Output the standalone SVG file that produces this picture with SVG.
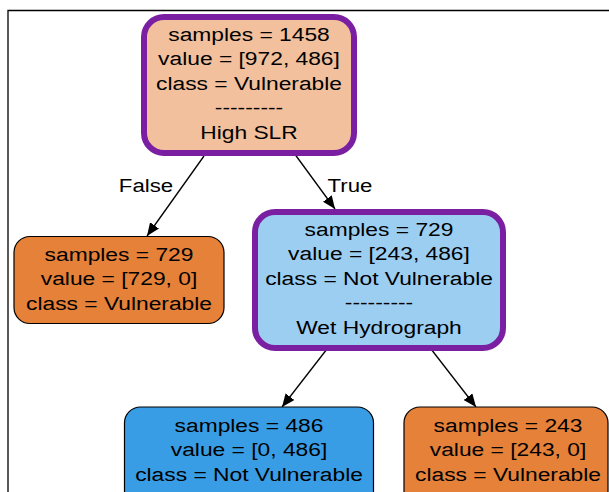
<svg xmlns="http://www.w3.org/2000/svg" width="609" height="492" viewBox="0 0 609 492">
<defs>
<style>
text{font-family:"Liberation Sans",Arial,Helvetica,sans-serif;font-size:19px;fill:#000;text-anchor:middle}
.split{stroke:#7b1fa2;stroke-width:6}
.leaf{stroke:#000;stroke-width:1.2}
.edge{stroke:#000;stroke-width:1.3;fill:none;marker-end:url(#ah)}
</style>
<marker id="ah" markerUnits="userSpaceOnUse" markerWidth="14" markerHeight="11" refX="13" refY="5.5" orient="auto">
<path d="M0,0 L13,5.5 L0,11 z" fill="#000"/>
</marker>
</defs>
<rect width="609" height="492" fill="#fff"/>
<path d="M8,492 V10.5 H609" fill="none" stroke="#000" stroke-width="1.3"/>
<g id="edges">
<line class="edge" x1="204" y1="156" x2="147" y2="236"/>
<line class="edge" x1="294" y1="153" x2="335" y2="209"/>
<line class="edge" x1="327" y1="349" x2="282" y2="407"/>
<line class="edge" x1="431" y1="349" x2="476" y2="407"/>
<g transform="translate(146,0) scale(1.17,1)"><text x="0" y="192">False</text></g>
<g transform="translate(350,0) scale(1.17,1)"><text x="0" y="192">True</text></g>
</g>
<g id="node0">
<rect class="split" x="144" y="17" width="210" height="136" rx="20" fill="#f2c09c"/>
<g transform="translate(249,0) scale(1.2,1)">
<text x="0" y="41.5">samples = 1458</text>
<text x="0" y="65.5">value = [972, 486]</text>
<text x="0" y="90">class = Vulnerable</text>
<text x="0" y="114.5">---------</text>
<text x="0" y="139">High SLR</text>
</g>
</g>
<g id="node1">
<rect class="leaf" x="14" y="236.5" width="210" height="87" rx="16" fill="#e58139"/>
<g transform="translate(119,0) scale(1.2,1)">
<text x="0" y="261.5">samples = 729</text>
<text x="0" y="285.5">value = [729, 0]</text>
<text x="0" y="310">class = Vulnerable</text>
</g>
</g>
<g id="node2">
<rect class="split" x="255" y="212" width="248" height="136" rx="20" fill="#9ccef2"/>
<g transform="translate(379,0) scale(1.2,1)">
<text x="0" y="236.5">samples = 729</text>
<text x="0" y="260.5">value = [243, 486]</text>
<text x="0" y="285">class = Not Vulnerable</text>
<text x="0" y="309.5">---------</text>
<text x="0" y="334">Wet Hydrograph</text>
</g>
</g>
<g id="node3">
<rect class="leaf" x="124.5" y="407" width="249" height="100" rx="16" fill="#399de5"/>
<g transform="translate(249,0) scale(1.2,1)">
<text x="0" y="432">samples = 486</text>
<text x="0" y="456.5">value = [0, 486]</text>
<text x="0" y="481">class = Not Vulnerable</text>
</g>
</g>
<g id="node4">
<rect class="leaf" x="404" y="407" width="204" height="100" rx="16" fill="#e58139"/>
<g transform="translate(508,0) scale(1.2,1)">
<text x="0" y="432">samples = 243</text>
<text x="0" y="456.5">value = [243, 0]</text>
<text x="0" y="481">class = Vulnerable</text>
</g>
</g>
</svg>
